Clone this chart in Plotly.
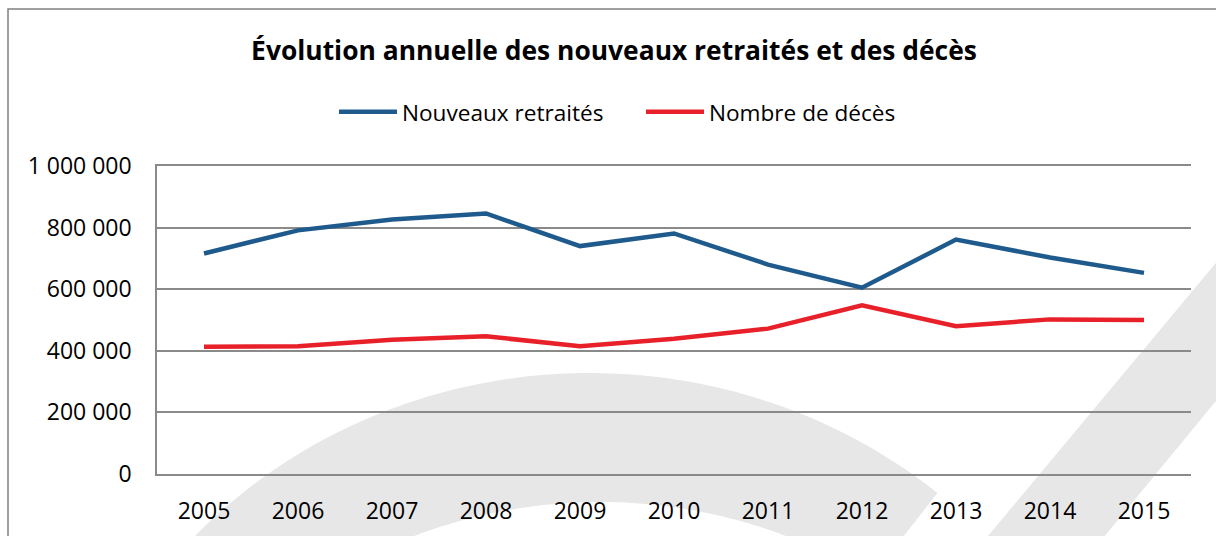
import numpy as np
import plotly.graph_objects as go

# ---- data ----
years = ["2005", "2006", "2007", "2008", "2009", "2010", "2011", "2012", "2013", "2014", "2015"]
nouveaux_retraites = [716000, 791000, 826000, 846000, 740000, 781000, 680000, 605000, 761000, 703000, 653000]
nombre_deces = [413000, 415000, 436000, 447000, 415000, 439000, 472000, 548000, 480000, 502000, 500000]
series_names = ["Nouveaux retraités", "Nombre de décès"]
title_text = "Évolution annuelle des nouveaux retraités et des décès"
y_ticks = [0, 200000, 400000, 600000, 800000, 1000000]

W, H = 1216, 536
L, R, T, B = 157, 1191, 166, 474
FONT = "Open Sans"
GRID = "#8A8A8A"

fig = go.Figure()
fig.add_trace(go.Scatter(x=years, y=nouveaux_retraites, name=series_names[0], mode="lines",
                         line=dict(color="#1F5A8D", width=4.5)))
fig.add_trace(go.Scatter(x=years, y=nombre_deces, name=series_names[1], mode="lines",
                         line=dict(color="#E8202A", width=4.5)))


def px2paper(px, py):
    return (px - L) / (R - L), (B - py) / (B - T)


def path_from(points):
    s = ""
    for i, (px, py) in enumerate(points):
        x, y = px2paper(px, py)
        s += ("M" if i == 0 else "L") + f"{x:.4f},{y:.4f} "
    return s + "Z"


def ellipse_pt(c, rx, ry, a):
    return (c[0] + rx * np.cos(a), c[1] + ry * np.sin(a))


def angle_at(c, rx, ry, y, side):
    s = np.clip((y - c[1]) / ry, -1, 1)
    a = np.arcsin(s)  # right side, angles in (-pi/2, 0) for points above center
    return a if side > 0 else -np.pi - a


# watermark (decorative background)
oc, orx, ory = (590, 885), 540, 512
ic, irx, iry = (600, 995), 510, 493
pts = []
a0 = angle_at(oc, orx, ory, 560, -1)
a1 = angle_at(oc, orx, ory, 493, +1)
for a in np.linspace(a0, a1, 90):
    pts.append(ellipse_pt(oc, orx, ory, a))
pts.append((885, 560))
b0 = angle_at(ic, irx, iry, 560, +1)
b1 = angle_at(ic, irx, iry, 560, -1)
for a in np.linspace(b0, b1, 90):
    pts.append(ellipse_pt(ic, irx, iry, a))
ring = path_from(pts)
band = path_from([(968, 560), (1240, 234), (1240, 372), (1085, 560)])

WM = "#E7E7E7"
shapes = [
    dict(type="path", xref="paper", yref="paper", path=ring, fillcolor=WM,
         line=dict(width=0), layer="below"),
    dict(type="path", xref="paper", yref="paper", path=band, fillcolor=WM,
         line=dict(width=0), layer="below"),
]
bx0, by0 = px2paper(8, 9)
bx1, by1 = px2paper(1240, 560)
shapes.append(dict(type="rect", xref="paper", yref="paper", x0=bx0, y0=by1, x1=bx1, y1=by0,
                   line=dict(color="#808080", width=1.5), fillcolor="rgba(0,0,0,0)", layer="above"))

fig.update_layout(
    width=W, height=H,
    margin=dict(l=L, r=W - R, t=T, b=H - B, pad=0, autoexpand=False),
    paper_bgcolor="white", plot_bgcolor="rgba(0,0,0,0)",
    separators=", ",
    font=dict(family=FONT, size=22, color="#000000"),
    title=dict(text=f"<b>{title_text}</b>", x=614 / W, xref="container", xanchor="center",
               y=1 - 51 / H, yref="container", yanchor="middle",
               font=dict(family=FONT, size=26.4, color="#000000")),
    legend=dict(orientation="h", xref="container", yref="container", x=641 / W, xanchor="center",
                y=1 - 112 / H, yanchor="middle", font=dict(family=FONT, size=22.6, color="#000000"),
                itemwidth=58, entrywidth=234, bgcolor="rgba(0,0,0,0)"),
    shapes=shapes,
    showlegend=True,
)
fig.update_xaxes(type="category", range=[-0.5, 10.5], showgrid=False, zeroline=False,
                 showline=True, mirror=True, linecolor=GRID, linewidth=1.5,
                 ticks="", ticklabelstandoff=16, tickfont=dict(size=23),
                 automargin=False)
fig.update_yaxes(range=[0, 1000000], tickvals=y_ticks, tickformat=",d", showgrid=True,
                 gridcolor=GRID, gridwidth=1.5, zeroline=False, showline=True,
                 linecolor=GRID, linewidth=1.5, ticks="", ticklabelstandoff=19,
                 tickfont=dict(size=23), automargin=False)

fig.write_html("out.html", config={"displayModeBar": False},
               post_script="document.body.style.margin='0';")
